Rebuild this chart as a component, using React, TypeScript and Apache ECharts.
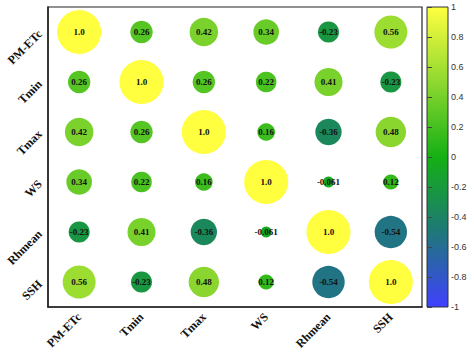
import React, { useEffect, useRef } from "react";
import * as echarts from "echarts";

const variables = ["PM-ETc", "Tmin", "Tmax", "WS", "Rhmean", "SSH"];

const rowPMETc = [1.0, 0.26, 0.42, 0.34, -0.23, 0.56];
const rowTmin = [0.26, 1.0, 0.26, 0.22, 0.41, -0.23];
const rowTmax = [0.42, 0.26, 1.0, 0.16, -0.36, 0.48];
const rowWS = [0.34, 0.22, 0.16, 1.0, -0.061, 0.12];
const rowRhmean = [-0.23, 0.41, -0.36, -0.061, 1.0, -0.54];
const rowSSH = [0.56, -0.23, 0.48, 0.12, -0.54, 1.0];

const matrix = [rowPMETc, rowTmin, rowTmax, rowWS, rowRhmean, rowSSH];

const colorbarMin = -1;
const colorbarMax = 1;
const colorbarStep = 0.2;

const palette = ["#4040ff", "#1e7878", "#14b014", "#8fd830", "#ffff40"];

export default function App() {
  const ref = useRef<HTMLDivElement>(null);
  useEffect(() => {
    if (!ref.current) return;
    document.body.style.margin = "0";
    const chart = echarts.init(ref.current, undefined, { renderer: "svg" });
    const data: [number, number, number][] = [];
    matrix.forEach((row, i) =>
      row.forEach((v, j) => data.push([j, i, v]))
    );
    const serif = "'Liberation Serif', 'Times New Roman', serif";
    const sans = "'Liberation Sans', Arial, sans-serif";
    const n = palette.length;
    const gradientStops = palette
      .slice()
      .reverse()
      .map((c, k) => ({ offset: k / (n - 1), color: c }));
    chart.setOption({
      animation: false,
      backgroundColor: "#fff",
      grid: [
        {
          left: 48,
          top: 7,
          width: 374,
          height: 300,
          show: true,
          borderColor: "#222",
          borderWidth: 1.2,
          backgroundColor: "transparent",
        },
        {
          left: 427,
          top: 7,
          width: 21,
          height: 300,
          show: true,
          borderColor: "#333",
          borderWidth: 1,
          backgroundColor: new echarts.graphic.LinearGradient(0, 0, 0, 1, gradientStops),
        },
      ],
      visualMap: {
        show: false,
        type: "continuous",
        seriesIndex: 0,
        dimension: 2,
        min: colorbarMin,
        max: colorbarMax,
        inRange: { color: palette },
      },
      xAxis: [
        {
          type: "category",
          gridIndex: 0,
          data: variables,
          boundaryGap: true,
          axisLine: { lineStyle: { color: "#222", width: 1.5 } },
          axisTick: { alignWithLabel: true, length: 5, lineStyle: { color: "#222" } },
          axisLabel: {
            rotate: 45,
            color: "#111",
            fontFamily: serif,
            fontWeight: "bold",
            fontSize: 12,
            margin: 8,
          },
          splitLine: { show: false },
        },
        {
          type: "value",
          gridIndex: 1,
          show: false,
        },
      ],
      yAxis: [
        {
          type: "category",
          gridIndex: 0,
          data: variables,
          inverse: true,
          boundaryGap: true,
          axisLine: { lineStyle: { color: "#222", width: 1.5 } },
          axisTick: { alignWithLabel: true, length: 5, lineStyle: { color: "#222" } },
          axisLabel: {
            rotate: 45,
            color: "#111",
            fontFamily: serif,
            fontWeight: "bold",
            fontSize: 12,
            margin: 8,
          },
          splitLine: { show: false },
        },
        {
          type: "value",
          gridIndex: 1,
          position: "right",
          min: colorbarMin,
          max: colorbarMax,
          interval: colorbarStep,
          axisLine: { show: false },
          axisTick: { show: true, length: 5, lineStyle: { color: "#444" } },
          axisLabel: {
            color: "#333",
            fontFamily: sans,
            fontSize: 9,
            margin: 3,
            formatter: (v: number) => String(Math.round(v * 10) / 10),
          },
          splitLine: { show: false },
        },
      ],
      series: [
        {
          type: "scatter",
          xAxisIndex: 0,
          yAxisIndex: 0,
          data,
          symbolSize: (d: number[]) => 44 * Math.sqrt(Math.abs(d[2])),
          label: {
            show: true,
            position: "inside",
            color: "#111",
            fontFamily: serif,
            fontWeight: "bold",
            fontSize: 9,
            formatter: (p: any) => {
              const v = p.value[2];
              return v === 1 ? "1.0" : String(v);
            },
          },
          itemStyle: { opacity: 1 },
        },
      ],
    });
    return () => chart.dispose();
  }, []);
  return <div ref={ref} style={{ width: 474, height: 356 }} />;
}
